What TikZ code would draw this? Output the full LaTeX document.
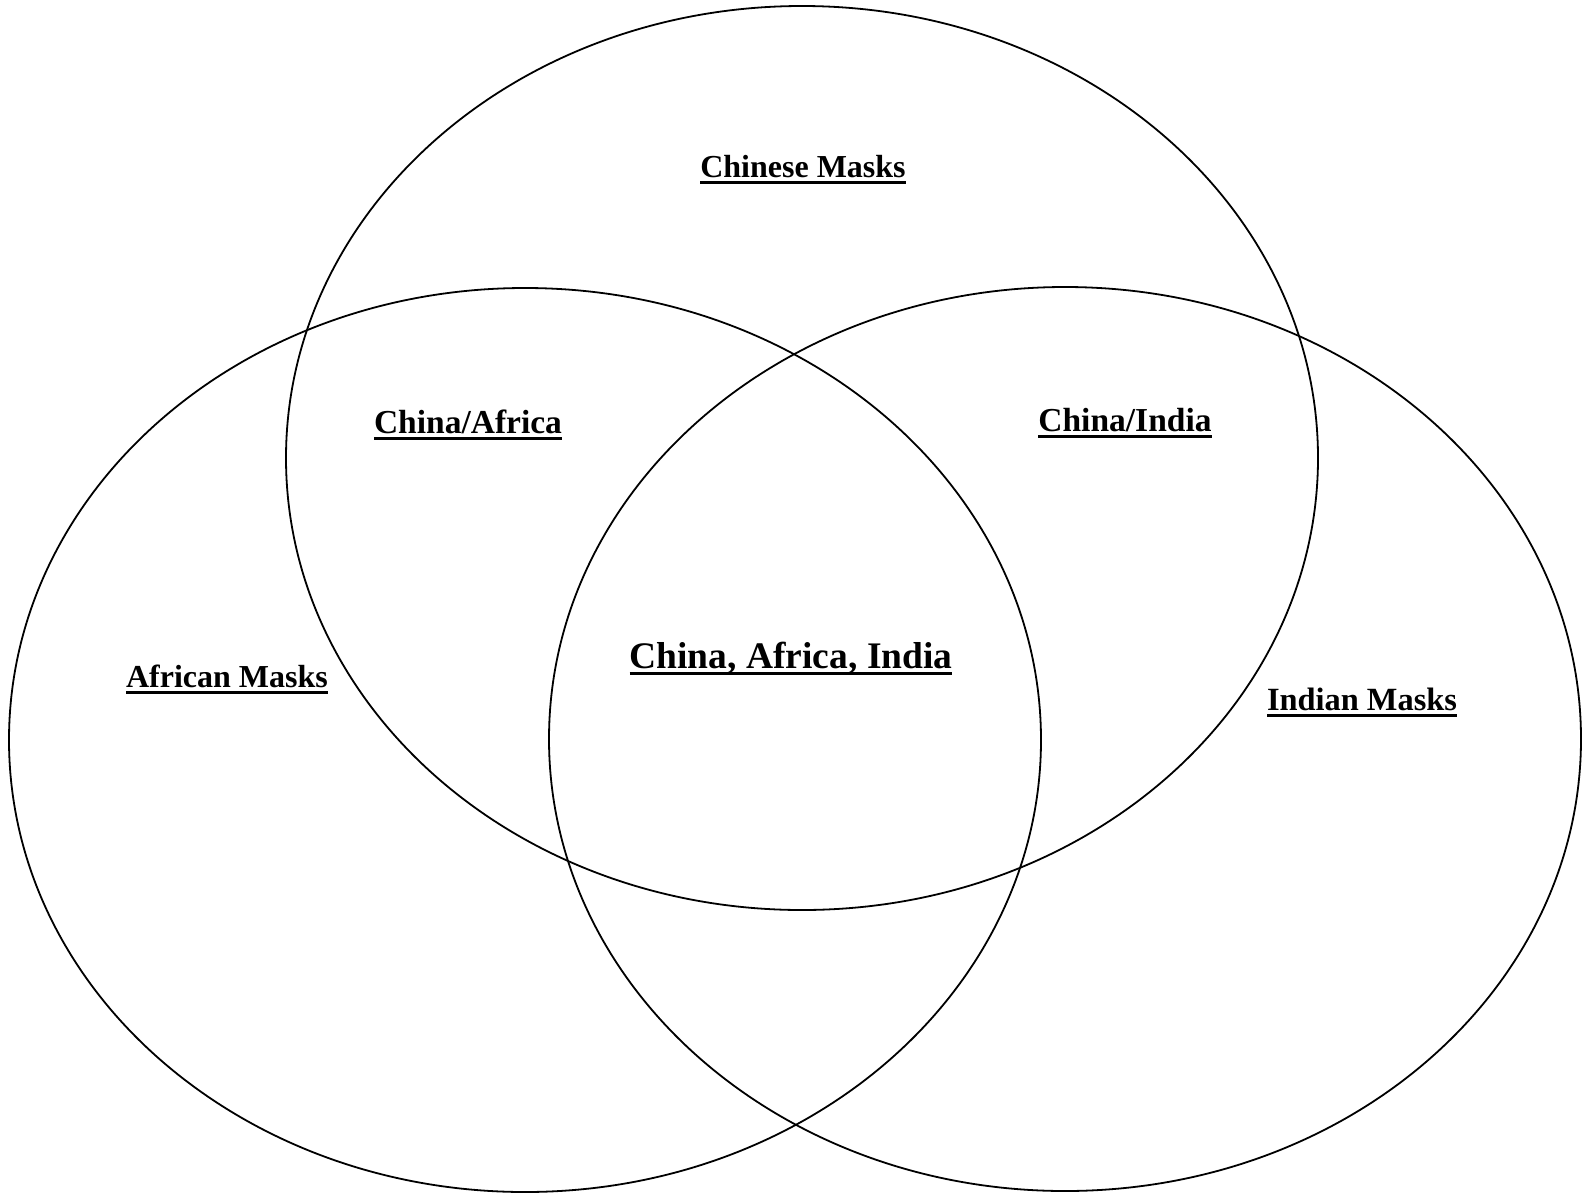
\documentclass[tikz,border=0pt]{standalone}
\usepackage{fontspec}
\setmainfont{Liberation Serif}
\newcommand\myul[2]{\setbox0\hbox{#2}\rlap{\rule[-#1]{\wd0}{2.8pt}}\box0}
\begin{document}
\begin{tikzpicture}[x=1pt,y=-1pt,
  venn/.style={draw=black,line width=1.8pt},
  lbl/.style={anchor=base,inner sep=0pt,font=\bfseries}]
\useasboundingbox (0,0) rectangle (1582,1195);
\fill[white] (0,0) rectangle (1582,1195);
\draw[venn] (802,458) ellipse [x radius=516, y radius=452];
\draw[venn] (525,740) ellipse [x radius=516, y radius=452];
\draw[venn] (1065,739) ellipse [x radius=516, y radius=452];
\node[lbl] (chinese) at (803,177) {\fontsize{32}{38}\selectfont\myul{7pt}{Chinese Masks}};
\node[lbl] (chinaafrica) at (468,433) {\fontsize{33.5}{40}\selectfont\myul{7pt}{China/Africa}};
\node[lbl] (chinaindia) at (1125,431) {\fontsize{33.5}{40}\selectfont\myul{7pt}{China/India}};
\node[lbl] (african) at (227,687) {\fontsize{32}{38}\selectfont\myul{7pt}{African Masks}};
\node[lbl] (indian) at (1362,710) {\fontsize{32.4}{38}\selectfont\myul{7pt}{Indian Masks}};
\node[lbl] (all) at (791,668) {\fontsize{37.5}{44}\selectfont\myul{7pt}{China, Africa, India}};
\end{tikzpicture}
\end{document}
